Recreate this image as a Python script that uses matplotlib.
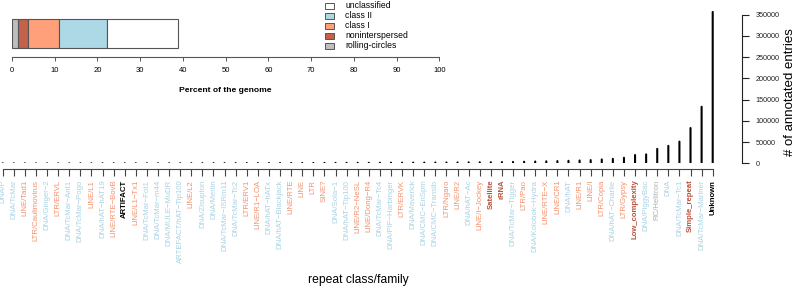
import matplotlib
matplotlib.use("Agg")
import matplotlib.pyplot as plt
from matplotlib.patches import Rectangle

plt.rcParams['font.family'] = ['Liberation Sans', 'DejaVu Sans']
plt.rcParams['path.simplify'] = False

# ---- data: genome composition (inset) ----
comp_classes = ["rolling-circles", "noninterspersed", "class I", "class II", "unclassified"]
comp_percent = [1.4, 2.3, 7.2, 11.3, 16.6]
comp_colors = ["#BEBEBE", "#C4614A", "#FFA07A", "#ADD8E6", "#FFFFFF"]
legend_order = ["unclassified", "class II", "class I", "noninterspersed", "rolling-circles"]

# ---- data: repeat families ----
families = [
    "DNA/P", "DNA/TcMar", "LINE/Tad1", "LTR/Caulimovirus", "DNA/Ginger\u22122", "LTR/ERVL",
    "DNA/TcMar\u2212Ant1", "DNA/TcMar\u2212Pogo", "LINE/L1", "DNA/hAT\u2212hAT19", "LINE/RTE\u2212BovB",
    "ARTIFACT", "LINE/L1\u2212Tx1", "DNA/TcMar\u2212Fot1", "DNA/TcMar\u2212m44", "DNA/MULE\u2212MuDR",
    "ARTEFACT/hAT\u2212Tip100", "LINE/L2", "DNA/Zisupton", "DNA/Merlin", "DNA/TcMar\u2212ISRm11",
    "DNA/TcMar\u2212Tc2", "LTR/ERV1", "LINE/R1\u2212LOA", "DNA/hAT\u2212hATx", "DNA/hAT\u2212Blackjack",
    "LINE/RTE", "LINE", "LTR", "SINE?", "DNA/Sola\u22121", "DNA/hAT\u2212Tip100", "LINE/R2\u2212NeSL",
    "LINE/Dong\u2212R4", "DNA/TcMar\u2212Tc4", "DNA/PIF\u2212Harbinger", "LTR/ERVK", "DNA/Maverick",
    "DNA/CMC\u2212EnSpm", "DNA/CMC\u2212Transib", "LTR/Ngaro", "LINE/R2", "DNA/hAT\u2212Ac",
    "LINE/I\u2212Jockey", "Satellite", "rRNA", "DNA/TcMar\u2212Tigger", "LTR/Pao",
    "DNA/Kolobok\u2212Hydra", "LINE/RTE\u2212X", "LINE/CR1", "DNA/hAT", "LINE/R1", "LINE/I",
    "LTR/Copia", "DNA/hAT\u2212Charlie", "LTR/Gypsy", "Low_complexity", "DNA/PiggyBac",
    "RC/Helitron", "DNA", "DNA/TcMar\u2212Tc1", "Simple_repeat", "DNA/TcMar\u2212Mariner", "Unknown",
]
counts = [
    10, 20, 30, 40, 50, 60, 70, 90, 110, 130, 150, 170, 190, 220, 250, 280, 310, 340, 380, 420,
    460, 500, 550, 600, 650, 700, 760, 820, 880, 950, 1020, 1100, 1180, 1260, 1350, 1450, 1550,
    1650, 1750, 1850, 1950, 2100, 2250, 2400, 2600, 2900, 3300, 3700, 4200, 4700, 5200, 5900,
    6700, 7600, 9000, 10500, 13000, 19500, 21000, 34000, 41000, 51000, 83000, 133000, 356000,
]
family_class = []
for f in families:
    if f in ("ARTIFACT", "Unknown"):
        family_class.append("other")
    elif f in ("Satellite", "rRNA", "Low_complexity", "Simple_repeat"):
        family_class.append("noninterspersed")
    elif f.startswith("RC"):
        family_class.append("rolling-circles")
    elif f.startswith(("LINE", "LTR", "SINE")):
        family_class.append("class I")
    else:
        family_class.append("class II")

label_colors = {"class II": "#A9D3E3", "class I": "#F4906C", "noninterspersed": "#B9533C",
                "rolling-circles": "#B0B0B0", "other": "#000000"}
bold_classes = {"noninterspersed", "other"}

W, H = 800, 291
fig = plt.figure(figsize=(W / 100, H / 100), dpi=100)

def fx(px):
    return px / W

def fy(py):
    return 1 - py / H

# ---- main axes ----
x0_px, x1_px = 0, 741.7
y_top_px, y_bot_px = 5, 163.3
ax = fig.add_axes([fx(x0_px), fy(y_bot_px), fx(x1_px - x0_px), (y_bot_px - y_top_px) / H])
ax.patch.set_alpha(0)
positions = list(range(1, len(families) + 1))
step = (712.7 - 2.7) / 64
ax.set_xlim(1 - 2.7 / step, 1 + (x1_px - 2.7) / step)
ymax350 = 350000
per_px = ymax350 / (163.3 - 14.5)
ax.set_ylim(0, (y_bot_px - y_top_px) * per_px)
ax.vlines(positions, 0, counts, colors="black", linewidth=1.5, capstyle="round", snap=False)

for s in ["top", "left"]:
    ax.spines[s].set_visible(False)
ax.spines["bottom"].set_position(("outward", 4.3))
ax.spines["bottom"].set_bounds(1, len(families))
ax.spines["bottom"].set_color("#444444")
ax.spines["right"].set_bounds(0, 350000)
ax.spines["right"].set_color("#222222")
ax.yaxis.tick_right()
ax.set_yticks(range(0, 350001, 50000))
ax.set_yticklabels([str(v) for v in range(0, 350001, 50000)])
ax.tick_params(axis="y", direction="out", length=5, width=0.8, pad=5, labelsize=5.2, colors="#222222")
ax.set_xticks(positions)
ax.set_xticklabels(families, rotation=90, fontsize=5.6)
ax.tick_params(axis="x", direction="out", length=5, width=0.8, pad=2.5, color="#444444")
for lbl, cls in zip(ax.get_xticklabels(), family_class):
    lbl.set_color(label_colors[cls])
    if cls in bold_classes:
        lbl.set_fontweight("bold")

fig.text(fx(790), fy(92), "# of annotated entries", rotation=90, ha="center", va="center", fontsize=9.5)
fig.text(fx(358), fy(280), "repeat class/family", ha="center", va="center", fontsize=8.7)

# ---- inset axes ----
ix0, ix1 = 12, 439.3
iy_top, iy_bot = 10, 52
iax = fig.add_axes([fx(ix0), fy(iy_bot), fx(ix1 - ix0), (iy_bot - iy_top) / H])
iax.patch.set_alpha(0)
left = 0
for cls, pct, col in zip(comp_classes, comp_percent, comp_colors):
    iax.barh(0.4405, pct, height=0.677, left=left, color=col, edgecolor="#555555", linewidth=0.8)
    left += pct
iax.set_xlim(0, 100)
iax.set_ylim(0, 1)
for s in ["top", "left", "right"]:
    iax.spines[s].set_visible(False)
iax.spines["bottom"].set_position(("outward", 3.6))
iax.spines["bottom"].set_bounds(0, 100)
iax.spines["bottom"].set_color("#555555")
iax.set_yticks([])
iax.set_xticks(range(0, 101, 10))
iax.tick_params(axis="x", direction="out", length=3, width=0.7, pad=4, labelsize=5.5, color="#555555")
fig.text(fx((ix0 + ix1) / 2), fy(90), "Percent of the genome", ha="center", va="center",
         fontsize=6.1, fontweight="bold")

# legend
row_y = [5.7, 15.7, 25.7, 36, 46]
cmap = dict(zip(comp_classes, comp_colors))
for name, ry in zip(legend_order, row_y):
    fig.patches.append(Rectangle((fx(325), fy(ry + 3)), fx(9), 6 / H, transform=fig.transFigure,
                                 facecolor=cmap[name], edgecolor="#555555", linewidth=0.7))
    fig.text(fx(345), fy(ry), name, ha="left", va="center", fontsize=6.2)

fig.savefig("out.png", dpi=100)
